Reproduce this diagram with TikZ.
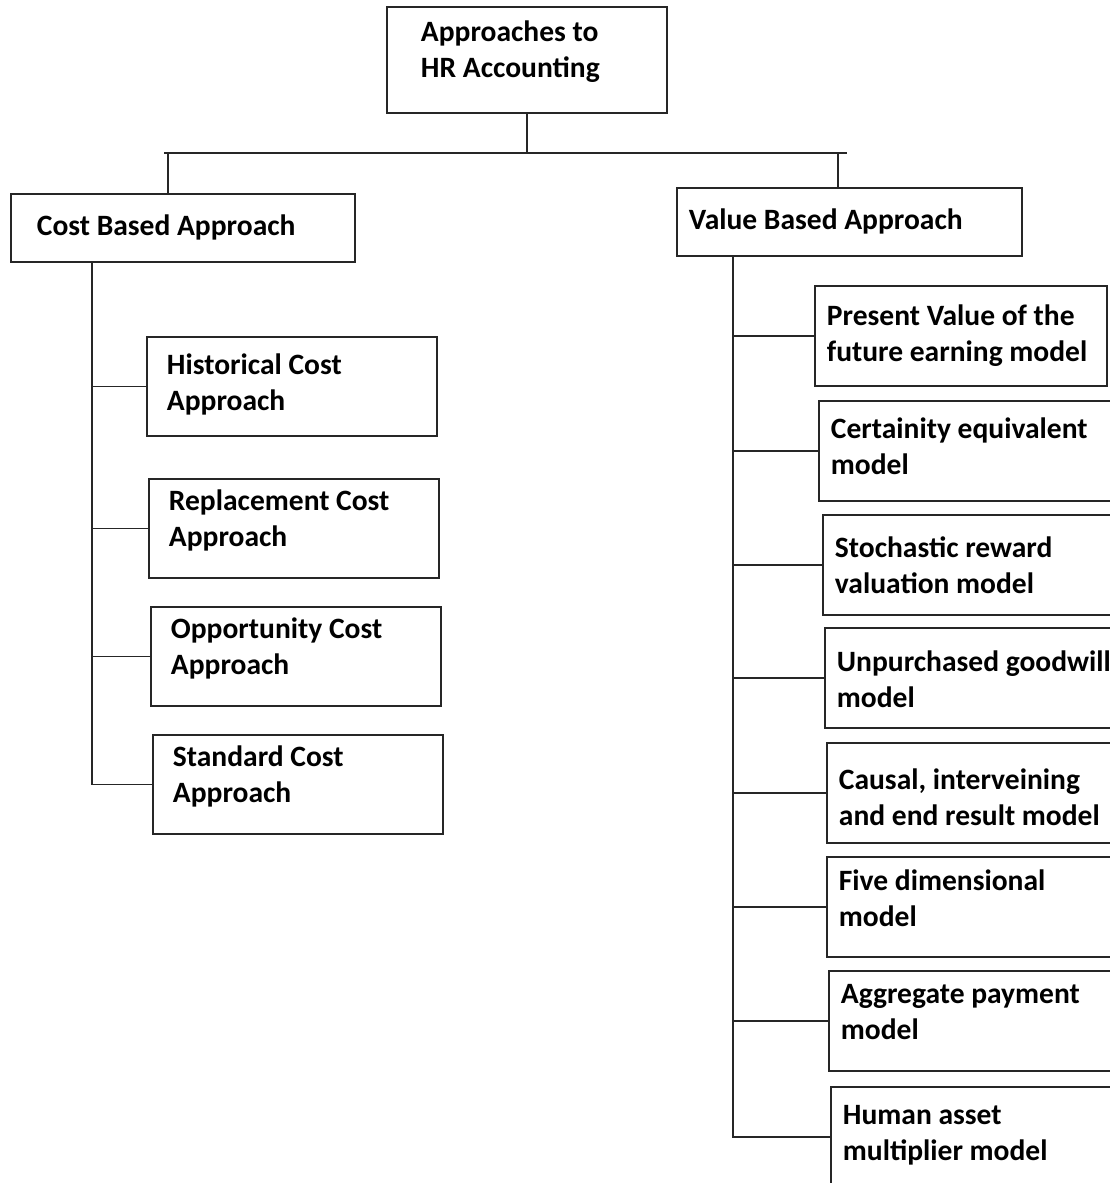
\documentclass[tikz,border=0pt]{standalone}
\usepackage{fontspec}
\setmainfont{Carlito}
\usetikzlibrary{positioning}
\newcommand{\hrfont}{\bfseries\fontsize{21}{25.6}\selectfont}
\tikzset{
  block/.style={
    rectangle,
    draw=black!85,
    line width=1.3pt,
    anchor=north west,
    align=flush left,
    inner ysep=1mm,
    font=\hrfont
  },
  rootblock/.style={
    block,
    inner xsep=8.5mm,
    text width=53mm,
    text depth=41pt,
    minimum height=26.5mm
  },
  headblock/.style={
    block,
    minimum height=17mm
  },
  costblock/.style={
    block,
    inner xsep=5mm,
    text width=62.5mm,
    text depth=40pt,
    minimum height=24.75mm
  },
  valueblock/.style={
    block,
    inner xsep=3mm,
    text width=67mm,
    minimum height=25mm
  },
  link/.style={
    line width=1.3pt,
    draw=black!85
  }
}

\begin{document}
\begin{tikzpicture}[x=0.025cm, y=-0.025cm]
  \useasboundingbox (0,0) rectangle (1110,1183);
  \clip (0,0) rectangle (1110,1183);

  \node[rootblock] (root) at (386,6) {Approaches to\\HR Accounting};

  \node[headblock, inner xsep=6.5mm, text width=73mm] (cost) at (10,193) {Cost Based Approach};
  \node[headblock, inner xsep=3mm, text width=80.25mm] (value) at (676,187) {Value Based Approach};

  % cost side
  \node[costblock, text depth=31pt] (hist) at (146,336) {Historical Cost\\Approach};
  \node[costblock] (repl) at (148,478) {Replacement Cost\\Approach};
  \node[costblock] (opp) at (150,606) {Opportunity Cost\\Approach};
  \node[costblock] (std) at (152,734) {Standard Cost\\Approach};

  % value side
  \node[valueblock] (pv) at (814,285) {Present Value of the\\future earning model};
  \node[valueblock, text depth=32pt] (ce) at (818,400) {Certainity equivalent\\model};
  \node[valueblock] (sr) at (822,514) {Stochastic reward\\valuation model};
  \node[valueblock, text width=72mm, text depth=24pt] (ug) at (824,627) {Unpurchased goodwill\\model};
  \node[valueblock, text depth=19.5pt] (ci) at (826,742) {Causal, interveining\\and end result model};
  \node[valueblock, text depth=38pt] (fd) at (826,856) {Five dimensional\\model};
  \node[valueblock, text depth=38pt] (ap) at (828,970) {Aggregate payment\\model};
  \node[valueblock, text depth=32pt] (ha) at (830,1086) {Human asset\\multiplier model};

  \coordinate (barL) at (164,153);
  \coordinate (barR) at (847,153);
  \coordinate (cdrop) at (168,153);
  \coordinate (vdrop) at (838,153);
  \coordinate (cspine) at (92,778);
  \coordinate (vspine) at (733,1132);

  \draw[link] (barL) -- (barR);
  \draw[link] (root.south) -- (root.south |- barL);
  \draw[link] (cdrop) -- (cdrop |- cost.north);
  \draw[link] (vdrop) -- (vdrop |- value.north);

  \draw[link] (cost.south -| cspine) |- (std.west);
  \draw[link] (hist.west) -- (hist.west -| cspine);
  \draw[link] (repl.west) -- (repl.west -| cspine);
  \draw[link] (opp.west) -- (opp.west -| cspine);

  \draw[link] (value.south -| vspine) |- (ha.west);
  \draw[link] (pv.west) -- (pv.west -| vspine);
  \draw[link] (ce.west) -- (ce.west -| vspine);
  \draw[link] (sr.west) -- (sr.west -| vspine);
  \draw[link] (ug.west) -- (ug.west -| vspine);
  \draw[link] (ci.west) -- (ci.west -| vspine);
  \draw[link] (fd.west) -- (fd.west -| vspine);
  \draw[link] (ap.west) -- (ap.west -| vspine);
\end{tikzpicture}
\end{document}
